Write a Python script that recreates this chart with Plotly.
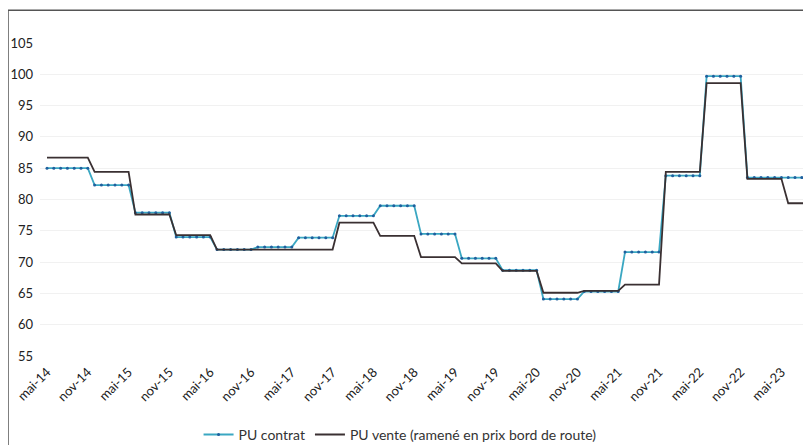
import plotly.graph_objects as go

# Monthly categories, May 2014 -> Sep 2023 (format "mmm-yy" as shown on the chart)
mois_fr = ["janv", "févr", "mars", "avr", "mai", "juin", "juil", "août", "sept", "oct", "nov", "déc"]
months = []
for i in range(113):
    m = (4 + i) % 12
    y = 14 + (4 + i) // 12
    months.append(f"{mois_fr[m]}-{y:02d}")

tick_labels = ["mai-14", "nov-14", "mai-15", "nov-15", "mai-16", "nov-16", "mai-17", "nov-17",
               "mai-18", "nov-18", "mai-19", "nov-19", "mai-20", "nov-20", "mai-21", "nov-21",
               "mai-22", "nov-22", "mai-23"]

pu_contrat = [
    85.0, 85.0, 85.0, 85.0, 85.0, 85.0, 85.0,
    82.3, 82.3, 82.3, 82.3, 82.3, 82.3,
    77.9, 77.9, 77.9, 77.9, 77.9, 77.9,
    74.0, 74.0, 74.0, 74.0, 74.0, 74.0,
    72.0, 72.0, 72.0, 72.0, 72.0, 72.0,
    72.4, 72.4, 72.4, 72.4, 72.4, 72.4,
    73.9, 73.9, 73.9, 73.9, 73.9, 73.9,
    77.4, 77.4, 77.4, 77.4, 77.4, 77.4,
    79.0, 79.0, 79.0, 79.0, 79.0, 79.0,
    74.5, 74.5, 74.5, 74.5, 74.5, 74.5,
    70.6, 70.6, 70.6, 70.6, 70.6, 70.6,
    68.7, 68.7, 68.7, 68.7, 68.7, 68.7,
    64.1, 64.1, 64.1, 64.1, 64.1, 64.1,
    65.3, 65.3, 65.3, 65.3, 65.3, 65.3,
    71.6, 71.6, 71.6, 71.6, 71.6, 71.6,
    83.8, 83.8, 83.8, 83.8, 83.8, 83.8,
    99.7, 99.7, 99.7, 99.7, 99.7, 99.7,
    83.5, 83.5, 83.5, 83.5, 83.5, 83.5,
    83.5, 83.5, 83.5, 83.5,
]

pu_vente = [
    86.7, 86.7, 86.7, 86.7, 86.7, 86.7, 86.7,
    84.4, 84.4, 84.4, 84.4, 84.4, 84.4,
    77.6, 77.6, 77.6, 77.6, 77.6, 77.6,
    74.3, 74.3, 74.3, 74.3, 74.3, 74.3,
    72.0, 72.0, 72.0, 72.0, 72.0, 72.0,
    72.0, 72.0, 72.0, 72.0, 72.0, 72.0,
    72.0, 72.0, 72.0, 72.0, 72.0, 72.0,
    76.3, 76.3, 76.3, 76.3, 76.3, 76.3,
    74.2, 74.2, 74.2, 74.2, 74.2, 74.2,
    70.8, 70.8, 70.8, 70.8, 70.8, 70.8,
    69.8, 69.8, 69.8, 69.8, 69.8, 69.8,
    68.6, 68.6, 68.6, 68.6, 68.6, 68.6,
    65.1, 65.1, 65.1, 65.1, 65.1, 65.1,
    65.4, 65.4, 65.4, 65.4, 65.4, 65.4,
    66.4, 66.4, 66.4, 66.4, 66.4, 66.4,
    84.4, 84.4, 84.4, 84.4, 84.4, 84.4,
    98.6, 98.6, 98.6, 98.6, 98.6, 98.6,
    83.3, 83.3, 83.3, 83.3, 83.3, 83.3,
    79.4, 79.4, 79.4, 79.4,
]

y_ticks = [55, 60, 65, 70, 75, 80, 85, 90, 95, 100, 105]

x_idx = list(range(len(months)))
tick_pos = [months.index(t) for t in tick_labels]

fig = go.Figure()
fig.add_trace(go.Scatter(
    x=x_idx, y=pu_contrat, name="PU contrat", mode="lines+markers",
    line=dict(color="#3aa7c2", width=1.8),
    marker=dict(size=3, color="#1f5f9e"),
    customdata=months,
))
fig.add_trace(go.Scatter(
    x=x_idx, y=pu_vente, name="PU vente (ramené en prix bord de route)", mode="lines",
    line=dict(color="#3a3032", width=1.8),
    customdata=months,
))

# the page body adds an 8px offset, so the figure is 8px smaller than the window
fig.update_layout(
    template="none",
    width=803, height=437,
    margin=dict(l=32, r=0, t=35, b=89, autoexpand=False),
    paper_bgcolor="white", plot_bgcolor="white",
    font=dict(family="Lato, 'Open Sans', sans-serif", size=13, color="#222"),
    showlegend=True,
    legend=dict(orientation="h", x=0.467, xanchor="center", y=-0.252, yanchor="middle",
                font=dict(size=14, color="#333"), itemwidth=30, traceorder="normal",
                bgcolor="rgba(0,0,0,0)"),
    xaxis=dict(range=[-1.03, 112.35], tickmode="array", automargin=False,
               tickvals=tick_pos, ticktext=tick_labels, tickangle=-45,
               showgrid=False, showline=False, zeroline=False, ticks="",
               ticklabelstandoff=5,
               tickfont=dict(size=13, color="#222")),
    yaxis=dict(range=[55, 105], tickvals=y_ticks, showgrid=True, gridcolor="#f1f1f1",
               automargin=False, zeroline=False, showline=False, ticks="",
               ticklabelstandoff=6,
               tickfont=dict(size=13, color="#222")),
    shapes=[dict(type="rect", xref="paper", yref="paper", x0=-0.0415, x1=1.05, y0=-0.35, y1=1.105,
                 line=dict(color="#555", width=1.5), layer="below")],
)

fig.write_html("out.html")
